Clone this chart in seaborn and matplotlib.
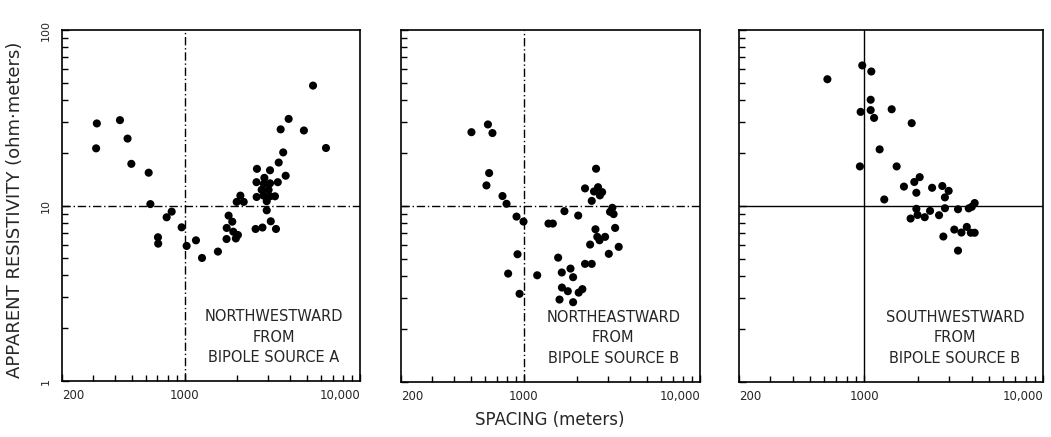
import matplotlib
matplotlib.use("Agg")
import matplotlib.pyplot as plt
import seaborn as sns
import numpy as np
import pandas as pd
from matplotlib.ticker import FixedLocator, NullFormatter, FixedFormatter

# values (spacing in m, resistivity in ohm-m)
nw_x = [316, 313, 428, 473, 497, 624, 638, 705, 707, 790, 844, 962, 1027, 1161, 1257,
        1549, 1782, 1870, 1738, 1895, 1735, 2014, 1960, 2080, 1982, 2173, 2586, 2850,
        3070, 2570, 2833, 3070, 3400, 2750, 3013, 2575, 2820, 3070, 3275, 2940, 2940,
        3440, 3650, 3770, 3530, 3920, 4790, 5400, 6400, 3100, 2540, 2780, 3320]
nw_y = [29.4, 21.2, 30.7, 24.1, 17.3, 15.4, 10.2, 6.6, 6.07, 8.58, 9.24, 7.52, 5.89, 6.34,
        5.03, 5.47, 8.77, 8.1, 7.46, 7.1, 6.45, 6.8, 6.5, 11.4, 10.5, 10.5, 16.2, 14.4,
        15.9, 13.6, 13.3, 13.4, 13.6, 12.3, 12.3, 11.2, 11.4, 11.3, 11.3, 10.6, 9.4,
        17.6, 20.1, 14.8, 27.2, 31.2, 26.8, 48.3, 21.3, 8.14, 7.36, 7.5, 7.36]

ne_x = [503, 624, 662, 634, 612, 755, 796, 907, 994, 919, 813, 944, 1189, 1378, 1459,
        1698, 1564, 1640, 1838, 1902, 1643, 1775, 1592, 1902, 2046, 2147, 2033, 2223,
        2568, 2636, 2500, 2781, 2427, 2700, 3177, 3083, 3230, 2548, 2610, 2890, 2687,
        2376, 3296, 3454, 3034, 2223, 2427]
ne_y = [26.3, 29.1, 26.0, 15.4, 13.1, 11.4, 10.3, 8.71, 8.16, 5.32, 4.13, 3.17, 4.04,
        7.95, 7.95, 9.35, 5.09, 4.19, 4.41, 3.94, 3.44, 3.28, 2.94, 2.84, 3.22, 3.37,
        8.83, 12.6, 16.3, 12.8, 12.1, 12.0, 10.7, 11.5, 9.77, 9.27, 9.0, 7.38, 6.68,
        6.68, 6.39, 6.04, 7.51, 5.86, 5.35, 4.69, 4.69]

sw_x = [624, 977, 1098, 1089, 957, 1089, 1138, 1427, 1846, 1222, 948, 1521, 1297, 1671,
        1909, 2046, 1960, 2400, 2737, 2970, 2830, 1960, 1820, 1990, 2183, 2338, 2625,
        2832, 3350, 3845, 4150, 4000, 2774, 3193, 3500, 3750, 3950, 4150, 3350]
sw_y = [52.6, 63, 58.2, 40.2, 34.3, 35.1, 31.7, 35.5, 29.6, 21.0, 16.8, 16.8, 10.9, 12.9,
        13.7, 14.6, 11.9, 12.7, 13.0, 12.2, 11.2, 9.64, 8.49, 8.9, 8.64, 9.39, 8.87,
        9.72, 9.59, 9.7, 10.4, 9.9, 6.71, 7.35, 7.07, 7.61, 7.05, 7.05, 5.58]

titles = ["NORTHWESTWARD\nFROM\nBIPOLE SOURCE A",
          "NORTHEASTWARD\nFROM\nBIPOLE SOURCE B",
          "SOUTHWESTWARD\nFROM\nBIPOLE SOURCE B"]
x_ticks = [200, 1000, 10000]
x_tick_labels = ["200", "1000", "10,000"]
y_ticks = [1, 10, 100]
y_tick_labels = ["1", "10", "100"]

sns.set_style("white")
plt.rcParams['font.family'] = ['DejaVu Sans']

fig = plt.figure(figsize=(10.51, 4.37), dpi=100)

boxes = [[0.059, 0.128, 0.2835, 0.803],
         [0.3815, 0.126, 0.2845, 0.805],
         [0.7031, 0.126, 0.2893, 0.805]]
line_styles = [(0, (6, 2, 1, 2)), (0, (6, 2, 1, 2)), "-"]
data = [(nw_x, nw_y), (ne_x, ne_y), (sw_x, sw_y)]

minor_x = [300, 400, 500, 600, 700, 800, 900, 2000, 3000, 4000, 5000, 6000, 7000, 8000, 9000]
minor_y = [2, 3, 4, 5, 6, 7, 8, 9, 20, 30, 40, 50, 60, 70, 80, 90]

for i in range(3):
    ax = fig.add_axes(boxes[i])
    df = pd.DataFrame({"spacing": data[i][0], "rho": data[i][1]})
    ax.set_xscale("log")
    ax.set_yscale("log")
    ax.axvline(1000, color="black", lw=1.0, ls=line_styles[i], zorder=1)
    ax.axhline(10, color="black", lw=1.0, ls=line_styles[i], zorder=1)
    sns.scatterplot(data=df, x="spacing", y="rho", ax=ax, color="black",
                    s=34, edgecolor="none", zorder=3)
    ax.set_xlim(200, 10000)
    ax.set_ylim(1, 100)
    ax.set_xlabel("")
    ax.set_ylabel("")

    ax.xaxis.set_major_locator(FixedLocator(x_ticks))
    ax.xaxis.set_major_formatter(FixedFormatter(x_tick_labels))
    ax.xaxis.set_minor_locator(FixedLocator(minor_x))
    ax.xaxis.set_minor_formatter(NullFormatter())
    ax.yaxis.set_major_locator(FixedLocator(y_ticks))
    ax.yaxis.set_major_formatter(NullFormatter())
    ax.yaxis.set_minor_locator(FixedLocator(minor_y))
    ax.yaxis.set_minor_formatter(NullFormatter())

    ax.tick_params(which="major", direction="in", length=5, width=1, color="black",
                   bottom=True, left=True, pad=6, labelsize=8.5)
    ax.tick_params(which="minor", direction="in", length=4, width=1, color="black",
                   bottom=True, left=True)

    labs = ax.get_xticklabels()
    labs[0].set_ha("left")
    labs[-1].set_ha("right")

    # y tick labels are lettered sideways in the original
    if i == 0:
        for v, lab in zip(y_ticks, y_tick_labels):
            ax.annotate(lab, xy=(0, v), xycoords=("axes fraction", "data"),
                        xytext=(-12, 0), textcoords="offset points",
                        rotation=90, ha="center", va="center", fontsize=8)

    for sp in ax.spines.values():
        sp.set_color("black")
        sp.set_linewidth(1.2)

    ax.text(0.71, 0.125, titles[i], transform=ax.transAxes, ha="center", va="center",
            fontsize=10.5, linespacing=1.45, zorder=4)

fig.text(0.523, 0.04, "SPACING (meters)", ha="center", va="center", fontsize=12)
fig.text(0.014, 0.52, "APPARENT RESISTIVITY (ohm·meters)", rotation=90,
         ha="center", va="center", fontsize=13)

plt.savefig("out.png", dpi=100)
